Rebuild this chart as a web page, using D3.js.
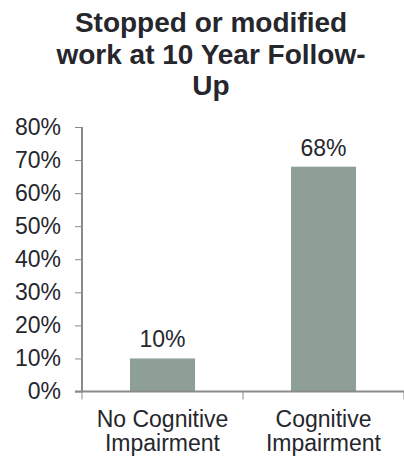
<!DOCTYPE html>
<html>
<head>
<meta charset="utf-8">
<script src="https://cdn.jsdelivr.net/npm/d3@7"></script>
<style>
  html, body { margin: 0; padding: 0; background: #fff; }
  svg { display: block; font-family: "Liberation Sans", Arial, sans-serif; }
</style>
</head>
<body>
<svg id="chart" width="404" height="461"></svg>
<script>
const titleLines = ["Stopped or modified", "work at 10 Year Follow-", "Up"];
const categories = [["No Cognitive", "Impairment"], ["Cognitive", "Impairment"]];
const values = [10, 68];
const yTicks = [0, 10, 20, 30, 40, 50, 60, 70, 80];

const svg = d3.select("#chart");
const margin = { left: 82, right: 0, top: 127, bottom: 70 };
const W = 404, H = 461;
const baseY = 391.5;

const x = d3.scaleBand()
  .domain(d3.range(values.length))
  .range([margin.left, W - margin.right])
  .paddingInner(0.596)
  .paddingOuter(0.298);

const y = d3.scaleLinear().domain([0, 80]).range([baseY, margin.top]);

const textColor = "#26262d";
const axisColor = "#8a8a8a";
const labelSize = 23;

// title
svg.append("g")
  .selectAll("text")
  .data(titleLines)
  .join("text")
  .attr("x", 211)
  .attr("y", (d, i) => 32 + i * 31.5)
  .attr("text-anchor", "middle")
  .attr("font-size", 28)
  .attr("font-weight", "bold")
  .attr("fill", textColor)
  .text(d => d);

// bars
svg.append("g")
  .selectAll("rect")
  .data(values)
  .join("rect")
  .attr("x", (d, i) => x(i))
  .attr("width", x.bandwidth())
  .attr("y", d => y(d))
  .attr("height", d => baseY - y(d))
  .attr("fill", "#8e9f95");

// value labels
svg.append("g")
  .selectAll("text")
  .data(values)
  .join("text")
  .attr("x", (d, i) => x(i) + x.bandwidth() / 2)
  .attr("y", d => y(d) - 11)
  .attr("text-anchor", "middle")
  .attr("font-size", labelSize)
  .attr("fill", textColor)
  .text(d => d + "%");

// y axis
const yAxis = d3.axisLeft(y)
  .tickValues(yTicks)
  .tickFormat(d => d + "%")
  .tickSize(7)
  .tickPadding(14);
const gy = svg.append("g")
  .attr("transform", `translate(${margin.left},0)`)
  .call(yAxis);
gy.select(".domain").attr("stroke", axisColor).attr("stroke-width", 2)
  .attr("d", `M0,${margin.top}V${baseY}`);
gy.selectAll(".tick line").attr("stroke", axisColor).attr("stroke-width", 1);
gy.selectAll(".tick text")
  .attr("font-size", labelSize)
  .attr("fill", textColor)
  .attr("font-family", "Liberation Sans, Arial, sans-serif");

// x axis: line with ticks on category boundaries
const gx = svg.append("g");
gx.append("line")
  .attr("x1", margin.left - 7).attr("x2", W)
  .attr("y1", baseY).attr("y2", baseY)
  .attr("stroke", axisColor).attr("stroke-width", 2);
const bounds = d3.range(values.length + 1).map(i => x.range()[0] + i * x.step());
gx.selectAll("line.tk")
  .data(bounds)
  .join("line")
  .attr("class", "tk")
  .attr("x1", d => d).attr("x2", d => d)
  .attr("y1", baseY).attr("y2", baseY + 8)
  .attr("stroke", axisColor).attr("stroke-width", 1);

// category labels, two lines each
const cl = svg.append("g")
  .selectAll("g")
  .data(categories)
  .join("g");
cl.selectAll("text")
  .data((d, i) => d.map(s => ({ s, i })))
  .join("text")
  .attr("text-anchor", "middle")
  .attr("font-size", labelSize)
  .attr("fill", textColor)
  .attr("x", d => x(d.i) + x.bandwidth() / 2)
  .attr("y", (d, j) => 427 + j * 24)
  .text(d => d.s);
</script>
</body>
</html>
